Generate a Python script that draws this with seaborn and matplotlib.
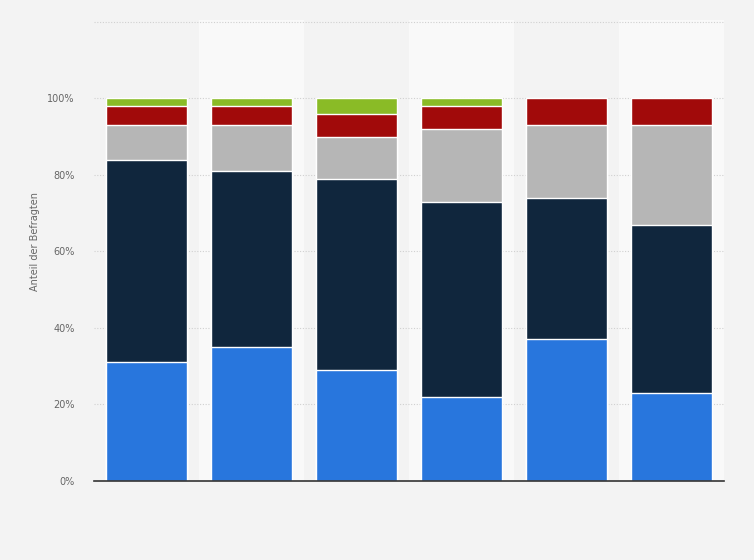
import matplotlib
matplotlib.use("Agg")
import matplotlib.pyplot as plt
import numpy as np
import pandas as pd
import seaborn as sns

# six survey groups (no labels shown on the chart)
groups = ["1", "2", "3", "4", "5", "6"]
blue = [31, 35, 29, 22, 37, 23]
navy = [53, 46, 50, 51, 37, 44]
gray = [9, 12, 11, 19, 19, 26]
red = [5, 5, 6, 6, 7, 7]
green = [2, 2, 4, 2, 0, 0]

y_ticks = [0, 20, 40, 60, 80, 100]
y_labels = ["0%", "20%", "40%", "60%", "80%", "100%"]

layers = [blue, navy, gray, red, green]
colors = ["#2876dd", "#10263d", "#b6b6b6", "#a10a0a", "#8abb26"]

sns.set_style("white")
plt.rcParams["font.family"] = ["DejaVu Sans"]

fig = plt.figure(figsize=(7.54, 5.60), dpi=100, facecolor="#f3f3f3")
ax = fig.add_axes([94 / 754, 1 - 481 / 560, 630 / 754, 461 / 560])
ax.set_facecolor("#f3f3f3")

# lighter stripes behind every second group
for i in range(1, len(groups), 2):
    ax.axvspan(i - 0.5, i + 0.5, color="#f9f9f9", zorder=0, lw=0)

for y in [20, 40, 60, 80, 100, 120]:
    ax.axhline(y, color="#d0d0d0", lw=0.8, ls=(0, (1, 1.5)), zorder=1)

# draw cumulative totals from the top down so the stacks overlap
cum = np.cumsum(np.array(layers), axis=0)
for k in range(len(layers) - 1, -1, -1):
    df = pd.DataFrame({"group": groups, "value": cum[k]})
    sns.barplot(data=df, x="group", y="value", color=colors[k], width=0.77,
                edgecolor="white", linewidth=1.0, saturation=1, ax=ax, zorder=2)

ax.set_xlim(-0.5, len(groups) - 0.5)
ax.set_ylim(0, 120.5)
ax.set_yticks(y_ticks)
ax.set_yticklabels(y_labels, color="#666666", fontsize=7)
ax.set_xticks([])
ax.set_xlabel("")
ax.set_ylabel("Anteil der Befragten", color="#666666", fontsize=7)
ax.yaxis.set_label_coords(-54 / 630, 0.52)
ax.tick_params(axis="y", length=0, pad=14)
for s in ["top", "right", "left"]:
    ax.spines[s].set_visible(False)
ax.spines["bottom"].set_color("#333333")
ax.spines["bottom"].set_linewidth(1.2)
ax.spines["bottom"].set_zorder(5)

fig.savefig("out.png", dpi=100, facecolor=fig.get_facecolor())
